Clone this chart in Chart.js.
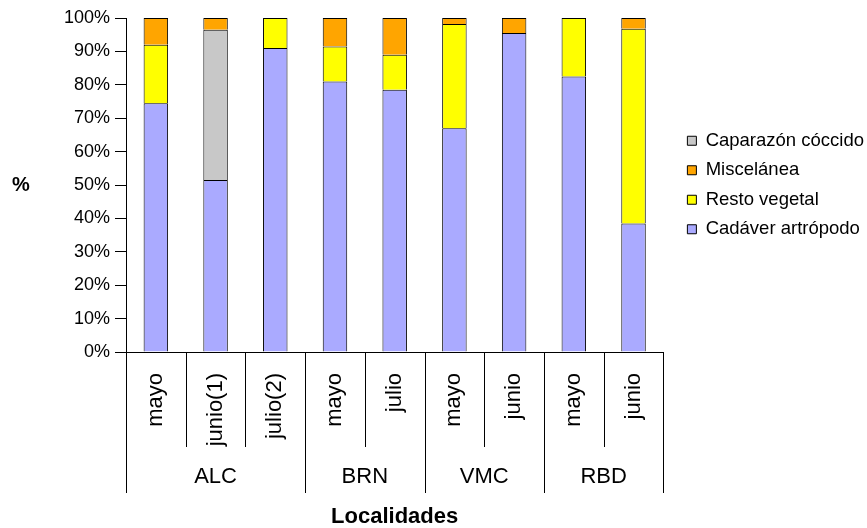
<!DOCTYPE html>
<html>
<head>
<meta charset="utf-8">
<script src="https://cdn.jsdelivr.net/npm/chart.js@4.4.1/dist/chart.umd.min.js"></script>
<style>
  html, body { margin: 0; padding: 0; background: #fff; }
  #wrap { width: 867px; height: 528px; }
</style>
</head>
<body>
<div id="wrap"><canvas id="c" width="867" height="528"></canvas></div>
<script>
// Sampling months, grouped by locality
const categories = ['mayo', 'junio(1)', 'julio(2)', 'mayo', 'julio', 'mayo', 'junio', 'mayo', 'junio'];
const groups = ['ALC', 'BRN', 'VMC', 'RBD'];
const groupSizes = [3, 2, 2, 2];

// Diet composition (% of items) per sample
const cadaverArtropodo = [74.5, 51.5, 91.0, 81.0, 78.5, 67.0, 95.5, 82.5, 38.5];
const restoVegetal     = [17.5,  0.0,  9.0, 10.5, 10.5, 31.2,  0.0, 17.5, 58.3];
const caparazonCoccido = [ 0.0, 45.0,  0.0,  0.0,  0.0,  0.0,  0.0,  0.0,  0.0];
const miscelanea       = [ 8.0,  3.5,  0.0,  8.5, 11.0,  1.8,  4.5,  0.0,  3.2];

const legendOrder = ['Caparazón cóccido', 'Miscelánea', 'Resto vegetal', 'Cadáver artrópodo'];

const FONT = "'Liberation Sans', Arial, Helvetica, sans-serif";
Chart.defaults.font.family = FONT;
Chart.defaults.color = '#000';

// Leaves a little white space between the plot and the legend
const legendGap = {
  id: 'legendGap',
  afterLayout(chart) {
    if (chart.legend) {
      chart.legend.left += 13;
      chart.legend.right += 13;
    }
  }
};

// Draws the locality level of the category axis and the horizontal "%" title
const groupAxis = {
  id: 'groupAxis',
  afterDraw(chart) {
    const ctx = chart.ctx;
    const x = chart.scales.x;
    const area = chart.chartArea;
    const n = categories.length;
    const edges = new Set([0]);
    let acc = 0;
    groupSizes.forEach(s => { acc += s; edges.add(acc); });

    ctx.save();
    ctx.strokeStyle = '#000';
    ctx.lineWidth = 1;
    for (let i = 0; i <= n; i++) {
      let px;
      if (i === 0) px = area.left;
      else if (i === n) px = area.right;
      else px = (x.getPixelForValue(i - 1) + x.getPixelForValue(i)) / 2;
      px = Math.round(px) + 0.5;
      const len = edges.has(i) ? 141 : 95;
      ctx.beginPath();
      ctx.moveTo(px, area.bottom);
      ctx.lineTo(px, area.bottom + len);
      ctx.stroke();
    }

    ctx.fillStyle = '#000';
    ctx.font = '22px ' + FONT;
    ctx.textAlign = 'center';
    ctx.textBaseline = 'middle';
    let start = 0;
    groups.forEach((g, gi) => {
      const end = start + groupSizes[gi];
      const l = start === 0 ? area.left : (x.getPixelForValue(start - 1) + x.getPixelForValue(start)) / 2;
      const r = end === n ? area.right : (x.getPixelForValue(end - 1) + x.getPixelForValue(end)) / 2;
      ctx.fillText(g, (l + r) / 2, area.bottom + 125);
      start = end;
    });

    ctx.font = 'bold 20px ' + FONT;
    ctx.fillText('%', 21, (area.top + area.bottom) / 2);
    ctx.restore();
  }
};

const common = {
  borderColor: '#000',
  // empty segments get no outline; each segment outlines its top and sides
  borderWidth: c => (c.type === 'data' && c.raw === 0 ? 0 : 1),
  borderSkipped: 'start',
  barPercentage: 0.41,
  categoryPercentage: 1.0
};

new Chart(document.getElementById('c'), {
  type: 'bar',
  data: {
    labels: categories,
    datasets: [
      Object.assign({ label: 'Cadáver artrópodo', data: cadaverArtropodo, backgroundColor: '#AAAAFF' }, common),
      Object.assign({ label: 'Resto vegetal', data: restoVegetal, backgroundColor: '#FFFF00' }, common),
      Object.assign({ label: 'Caparazón cóccido', data: caparazonCoccido, backgroundColor: '#C8C8C8' }, common),
      Object.assign({ label: 'Miscelánea', data: miscelanea, backgroundColor: '#FFA500' }, common)
    ]
  },
  options: {
    responsive: false,
    devicePixelRatio: 1,
    animation: false,
    layout: { padding: { top: 18, right: 6, bottom: 0, left: 0 } },
    plugins: {
      tooltip: { enabled: false },
      legend: {
        position: 'right',
        fullSize: false,
        align: 'center',
        labels: {
          boxWidth: 9,
          boxHeight: 9,
          padding: 11,
          color: '#000',
          font: { size: 18.5 },
          generateLabels(chart) {
            return Chart.defaults.plugins.legend.labels.generateLabels(chart).map(item => {
              item.lineWidth = 1;
              item.strokeStyle = '#000';
              return item;
            });
          },
          sort: (a, b) => legendOrder.indexOf(a.text) - legendOrder.indexOf(b.text)
        }
      }
    },
    scales: {
      x: {
        stacked: true,
        grid: { display: false, drawTicks: false },
        border: { display: true, color: '#000', width: 1 },
        ticks: {
          autoSkip: false,
          minRotation: 90,
          maxRotation: 90,
          padding: 21,
          color: '#000',
          font: { size: 22 }
        },
        title: {
          display: true,
          text: 'Localidades',
          color: '#000',
          font: { size: 22, weight: 'bold', lineHeight: 1 },
          padding: { top: 0, bottom: 0 }
        },
        afterFit(s) { s.height = 176; }
      },
      y: {
        stacked: true,
        min: 0,
        max: 100,
        grid: { display: true, drawOnChartArea: false, drawTicks: true, tickLength: 11, color: '#000' },
        border: { display: true, color: '#000', width: 1 },
        ticks: {
          stepSize: 10,
          padding: 5,
          color: '#000',
          font: { size: 18 },
          callback: v => v + '%'
        },
        afterFit(s) { s.width = 126; }
      }
    }
  },
  plugins: [groupAxis, legendGap]
});
</script>
</body>
</html>
